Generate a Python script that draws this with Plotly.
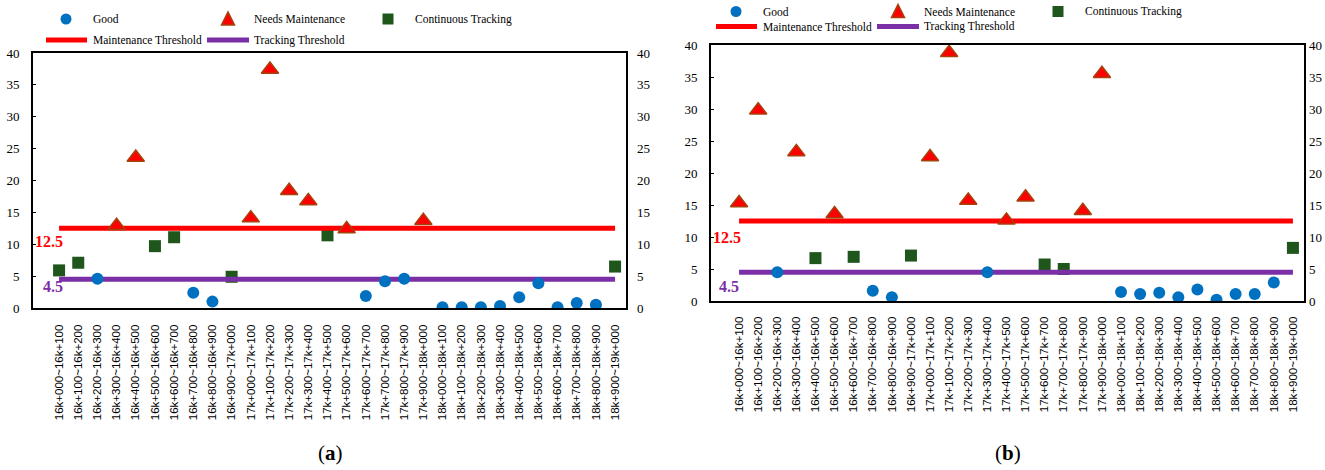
import plotly.graph_objects as go

W, H = 1325, 470

# Road sections (stake-number intervals)
sections = [
    "16k+000~16k+100", "16k+100~16k+200", "16k+200~16k+300", "16k+300~16k+400",
    "16k+400~16k+500", "16k+500~16k+600", "16k+600~16k+700", "16k+700~16k+800",
    "16k+800~16k+900", "16k+900~17k+000", "17k+000~17k+100", "17k+100~17k+200",
    "17k+200~17k+300", "17k+300~17k+400", "17k+400~17k+500", "17k+500~17k+600",
    "17k+600~17k+700", "17k+700~17k+800", "17k+800~17k+900", "17k+900~18k+000",
    "18k+000~18k+100", "18k+100~18k+200", "18k+200~18k+300", "18k+300~18k+400",
    "18k+400~18k+500", "18k+500~18k+600", "18k+600~18k+700", "18k+700~18k+800",
    "18k+800~18k+900", "18k+900~19k+000",
]

values_a = [5.9, 7.1, 4.6, 12.9, 23.6, 9.7, 11.1, 2.4, 1.0, 4.9,
            14.1, 37.4, 18.4, 16.8, 11.4, 12.4, 1.9, 4.2, 4.6, 13.7,
            0.1, 0.1, 0.1, 0.3, 1.7, 3.9, 0.1, 0.8, 0.5, 6.5]
# G = good, M = needs maintenance, T = continuous tracking
status_a = ["T", "T", "G", "M", "M", "T", "T", "G", "G", "T",
            "M", "M", "M", "M", "T", "M", "G", "G", "G", "M",
            "G", "G", "G", "G", "G", "G", "G", "G", "G", "T"]

values_b = [15.3, 29.8, 4.5, 23.3, 6.7, 13.6, 6.9, 1.6, 0.6, 7.1,
            22.5, 38.8, 15.7, 4.5, 12.6, 16.2, 5.7, 5.0, 14.1, 35.5,
            1.4, 1.1, 1.3, 0.6, 1.8, 0.2, 1.1, 1.1, 2.9, 8.3]
status_b = ["M", "M", "G", "M", "T", "M", "T", "G", "G", "T",
            "M", "M", "M", "G", "M", "M", "T", "T", "M", "M",
            "G", "G", "G", "G", "G", "G", "G", "G", "G", "T"]

maintenance_threshold = 12.5
tracking_threshold = 4.5

C_GOOD = "#0070C0"
C_MAINT = "#FF0000"
C_MAINT_EDGE = "#A5420C"
C_TRACK = "#1F561B"
C_LINE_MAINT = "#FF0000"
C_LINE_TRACK = "#7B2FA6"

SERIF = "Liberation Serif, Times New Roman, serif"
SANS = "Liberation Sans, Arial, sans-serif"

fig = go.Figure()

panels = [
    dict(vals=values_a, status=status_a, xa="x", ya="y", ya2="y2",
         xrange=[-1.36, 29.57], xdom=[33 / W, 626 / W], ydom=[1 - 308 / H, 1 - 53 / H],
         xstand=10, rstand=10, lab12=(0.3, 10.5), lab45=(0.3, 3.45)),
    dict(vals=values_b, status=status_b, xa="x2", ya="y3", ya2="y4",
         xrange=[-1.47, 29.58], xdom=[711 / W, 1304 / W], ydom=[1 - 301 / H, 1 - 45 / H],
         xstand=9, rstand=4, lab12=(0.2, 10.0), lab45=(0.1, 2.2)),
]

idx = list(range(len(sections)))


def pick(vals, status, code):
    xs = [i for i, s in zip(idx, status) if s == code]
    ys = [v for v, s in zip(vals, status) if s == code]
    return xs, ys


for p in panels:
    vals, status = p["vals"], p["status"]

    # Continuous tracking (squares)
    tx, ty = pick(vals, status, "T")
    fig.add_trace(go.Scatter(
        x=tx, y=ty, mode="markers",
        marker=dict(symbol="square", size=12, color=C_TRACK),
        xaxis=p["xa"], yaxis=p["ya"], showlegend=False))
    # Threshold lines
    fig.add_trace(go.Scatter(
        x=[idx[0], idx[-1]], y=[maintenance_threshold] * 2, mode="lines",
        line=dict(color=C_LINE_MAINT, width=5),
        xaxis=p["xa"], yaxis=p["ya"], showlegend=False))
    fig.add_trace(go.Scatter(
        x=[idx[0], idx[-1]], y=[tracking_threshold] * 2, mode="lines",
        line=dict(color=C_LINE_TRACK, width=5),
        xaxis=p["xa"], yaxis=p["ya"], showlegend=False))
    # Good (circles)
    gx, gy = pick(vals, status, "G")
    fig.add_trace(go.Scatter(
        x=gx, y=gy, mode="markers",
        marker=dict(symbol="circle", size=12, color=C_GOOD),
        xaxis=p["xa"], yaxis=p["ya"], showlegend=False))
    # Needs maintenance (triangles)
    mx, my = pick(vals, status, "M")
    fig.add_trace(go.Scatter(
        x=mx, y=my, mode="markers",
        marker=dict(symbol="triangle-up", size=15, color=C_MAINT,
                    line=dict(color=C_MAINT_EDGE, width=1.5)),
        xaxis=p["xa"], yaxis=p["ya"], showlegend=False))
    # Secondary axis carrier (same scale, right side labels)
    fig.add_trace(go.Scatter(
        x=[idx[0]], y=[0], mode="markers", marker=dict(opacity=0),
        xaxis=p["xa"], yaxis=p["ya2"], showlegend=False, hoverinfo="skip"))

    # Threshold value labels
    fig.add_annotation(x=p["lab12"][0], y=p["lab12"][1], xref=p["xa"], yref=p["ya"],
                       text="<b>12.5</b>", showarrow=False, xanchor="right",
                       yanchor="middle",
                       font=dict(family=SERIF, size=16, color=C_LINE_MAINT))
    fig.add_annotation(x=p["lab45"][0], y=p["lab45"][1], xref=p["xa"], yref=p["ya"],
                       text="<b>4.5</b>", showarrow=False, xanchor="right",
                       yanchor="middle",
                       font=dict(family=SERIF, size=16, color=C_LINE_TRACK))

axis_common_y = dict(range=[0, 40], dtick=5, showgrid=False, zeroline=False,
                     tickfont=dict(family=SERIF, size=13, color="black"))

layout = dict(
    width=W, height=H, margin=dict(l=0, r=0, t=0, b=0),
    paper_bgcolor="white", plot_bgcolor="white", showlegend=False,
)

for k, p in enumerate(panels):
    xname = "xaxis" if k == 0 else "xaxis2"
    yname = "yaxis" if k == 0 else "yaxis3"
    y2name = "yaxis2" if k == 0 else "yaxis4"
    layout[xname] = dict(
        domain=p["xdom"], range=p["xrange"], anchor=p["ya"],
        tickmode="array", tickvals=idx, ticktext=sections, tickangle=-90,
        tickfont=dict(family=SANS, size=11.5, color="black"),
        showline=True, linecolor="black", linewidth=2, mirror=True,
        showgrid=False, zeroline=False, ticks="", ticklabelstandoff=p["xstand"],
        automargin=False,
    )
    layout[yname] = dict(
        domain=p["ydom"], anchor=p["xa"], side="left",
        showline=True, linecolor="black", linewidth=2, mirror=True,
        ticks="inside", ticklen=3, tickcolor="black", ticklabelstandoff=9,
        automargin=False, **axis_common_y,
    )
    layout[y2name] = dict(
        overlaying=p["ya"], anchor=p["xa"], side="right",
        showline=False, ticks="", ticklabelstandoff=p["rstand"],
        automargin=False, **axis_common_y,
    )

fig.update_layout(**layout)


# Legend keys (two rows above each panel), positioned in pixels
def px(x):
    return x / W


def py(y):
    return 1 - y / H


legend_font = dict(family=SERIF, size=11.5, color="black")


def legend_text(x, y, text):
    fig.add_annotation(x=px(x), y=py(y), xref="paper", yref="paper",
                       text=text, showarrow=False, xanchor="left", yanchor="middle",
                       font=legend_font)


for dx, r1, r2 in [(0, 19, 40), (670, 11.5, 26.5)]:
    # Good
    cx, cy, r = 66 + dx, r1, 5.5
    fig.add_shape(type="circle", xref="paper", yref="paper",
                  x0=px(cx - r), x1=px(cx + r), y0=py(cy + r), y1=py(cy - r),
                  fillcolor=C_GOOD, line=dict(width=0))
    legend_text(91 + dx, r1, "Good")
    # Needs maintenance
    tx, ty = 228 + dx, r1
    fig.add_shape(type="path", xref="paper", yref="paper",
                  path=f"M {px(tx - 6.5)} {py(ty + 6)} L {px(tx + 6.5)} {py(ty + 6)} "
                       f"L {px(tx)} {py(ty - 7)} Z",
                  fillcolor=C_MAINT, line=dict(color=C_MAINT_EDGE, width=1.5))
    legend_text(252 + dx, r1, "Needs Maintenance")
    # Continuous tracking
    sx, sy, s = 388 + dx, r1, 5.5
    fig.add_shape(type="rect", xref="paper", yref="paper",
                  x0=px(sx - s), x1=px(sx + s), y0=py(sy + s), y1=py(sy - s),
                  fillcolor=C_TRACK, line=dict(width=0))
    legend_text(413 + dx, r1, "Continuous Tracking")
    # Threshold lines
    fig.add_shape(type="line", xref="paper", yref="paper",
                  x0=px(46 + dx), x1=px(87 + dx), y0=py(r2), y1=py(r2),
                  line=dict(color=C_LINE_MAINT, width=5))
    legend_text(91 + dx, r2, "Maintenance Threshold")
    fig.add_shape(type="line", xref="paper", yref="paper",
                  x0=px(207 + dx), x1=px(249 + dx), y0=py(r2), y1=py(r2),
                  line=dict(color=C_LINE_TRACK, width=5))
    legend_text(252 + dx, r2, "Tracking Threshold")

# Panel captions
for cx, letter in [(330, "a"), (1008, "b")]:
    fig.add_annotation(x=px(cx), y=py(453), xref="paper", yref="paper",
                       text=f"(<b>{letter}</b>)", showarrow=False,
                       xanchor="center", yanchor="middle",
                       font=dict(family=SERIF, size=21, color="black"))

fig.write_html("out.html")
